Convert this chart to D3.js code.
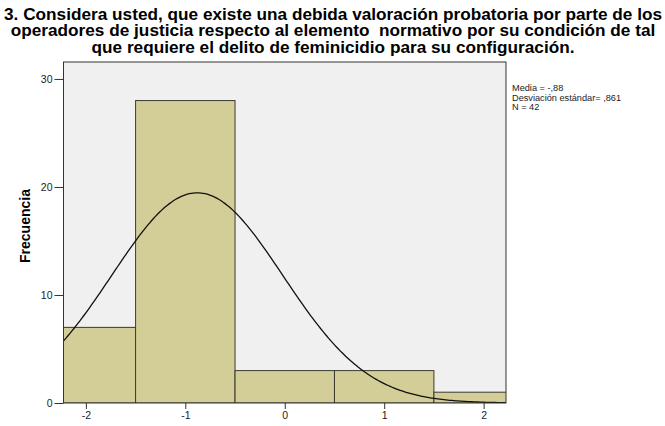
<!DOCTYPE html>
<html>
<head>
<meta charset="utf-8">
<script src="https://cdn.jsdelivr.net/npm/d3@7"></script>
<style>
	body { margin: 0; background: #fff; }
	svg { display: block; font-family: "Liberation Sans", Arial, sans-serif; }
</style>
</head>
<body>
<div id="chart"></div>
<script>
// Histogram data (bins of width 1 centred on integer values)
var binCenters = [-2, -1, 0, 1, 2];
var binCounts = [7, 28, 3, 3, 1];
var xTicks = [-2, -1, 0, 1, 2];
var yTicks = [0, 10, 20, 30];
var titleLines = [
	"3. Considera usted, que existe una debida valoración probatoria por parte de los",
	"operadores de justicia respecto al elemento  normativo por su condición de tal",
	"que requiere el delito de feminicidio para su configuración."
];
var statLines = ["Media = -,88", "Desviación estándar= ,861", "N = 42"];
var mean = -0.88, sd = 0.861, n = 42;

var width = 665, height = 426;
var plot = {left: 63.5, right: 506, top: 62, bottom: 403};

var svg = d3.select("#chart").append("svg")
	.attr("width", width)
	.attr("height", height);

// Scales
var x = d3.scaleLinear().domain([-2.225, 2.225]).range([plot.left, plot.right]);
var y = d3.scaleLinear().domain([0, 31.57]).range([plot.bottom, plot.top]);

// Title (slightly widened font, like the SPSS output)
svg.append("g")
	.attr("transform", "translate(333,0) scale(1.09,1)")
	.selectAll("text")
	.data(titleLines)
	.enter().append("text")
	.attr("x", 0)
	.attr("y", function(d, i){ return 20 + i * 16.3; })
	.attr("text-anchor", "middle")
	.attr("xml:space", "preserve")
	.style("white-space", "pre")
	.style("font-size", "15.8px")
	.style("font-weight", "bold")
	.text(function(d){ return d; });

// Plot background
svg.append("rect")
	.attr("x", plot.left).attr("y", plot.top)
	.attr("width", plot.right - plot.left)
	.attr("height", plot.bottom - plot.top)
	.attr("fill", "#f0f0f0");

// Clip for bars and curve
svg.append("defs").append("clipPath").attr("id", "plotClip")
	.append("rect")
	.attr("x", plot.left).attr("y", plot.top)
	.attr("width", plot.right - plot.left)
	.attr("height", plot.bottom - plot.top);

var g = svg.append("g").attr("clip-path", "url(#plotClip)");

// Bars
g.selectAll("rect.bar")
	.data(binCenters)
	.enter().append("rect")
	.attr("class", "bar")
	.attr("x", function(d){ return x(d - 0.5); })
	.attr("y", function(d, i){ return y(binCounts[i]); })
	.attr("width", function(d){ return x(d + 0.5) - x(d - 0.5); })
	.attr("height", function(d, i){ return y(0) - y(binCounts[i]); })
	.attr("fill", "#d3ce97")
	.attr("stroke", "#3a3a30")
	.attr("stroke-width", 1);

// Normal curve scaled to counts (bin width 1)
var normal = function(v){
	return n * 1 / (sd * Math.sqrt(2 * Math.PI)) * Math.exp(-0.5 * Math.pow((v - mean) / sd, 2));
};
var curvePts = d3.range(-2.3, 2.3, 0.02).map(function(v){ return [v, normal(v)]; });
g.append("path")
	.datum(curvePts)
	.attr("d", d3.line().x(function(d){ return x(d[0]); }).y(function(d){ return y(d[1]); }))
	.attr("fill", "none")
	.attr("stroke", "#111")
	.attr("stroke-width", 1.3);

// Frame
svg.append("rect")
	.attr("x", plot.left).attr("y", plot.top)
	.attr("width", plot.right - plot.left)
	.attr("height", plot.bottom - plot.top)
	.attr("fill", "none")
	.attr("stroke", "#333")
	.attr("stroke-width", 1);

// Axes
var yAxis = svg.append("g")
	.attr("transform", "translate(" + plot.left + ",0)")
	.call(d3.axisLeft(y).tickValues(yTicks).tickSize(9).tickPadding(2));
var xAxis = svg.append("g")
	.attr("transform", "translate(0," + plot.bottom + ")")
	.call(d3.axisBottom(x).tickValues(xTicks).tickSize(6).tickPadding(3)
		.tickFormat(function(d){ return d < 0 ? "-" + Math.abs(d) : d; }));
[yAxis, xAxis].forEach(function(a){
	a.select(".domain").remove();
	a.selectAll("line").attr("stroke", "#333");
	a.selectAll("text").style("font-size", "10.5px").attr("fill", "#222")
		.style("font-family", "'Liberation Sans', Arial, sans-serif");
});

// Y axis label
svg.append("text")
	.attr("transform", "translate(30," + 226 + ") rotate(-90)")
	.attr("text-anchor", "middle")
	.style("font-size", "14px")
	.style("font-weight", "bold")
	.text("Frecuencia");

// Stats box text
svg.append("g").selectAll("text")
	.data(statLines)
	.enter().append("text")
	.attr("x", 512)
	.attr("y", function(d, i){ return 91 + i * 9.5; })
	.style("font-size", "9.2px")
	.attr("fill", "#222")
	.text(function(d){ return d; });
</script>
</body>
</html>
